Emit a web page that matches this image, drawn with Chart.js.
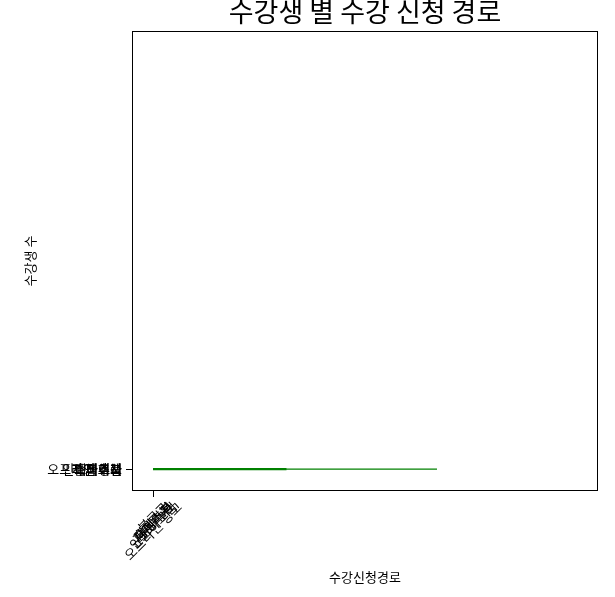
<!DOCTYPE html>
<html>
<head>
<meta charset="utf-8">
<script src="https://cdn.jsdelivr.net/npm/chart.js@4"></script>
<style>
  html, body { margin: 0; padding: 0; background: #fff; }
  #wrap { width: 615px; height: 597px; }
</style>
</head>
<body>
<div id="wrap"><canvas id="chart" width="615" height="597"></canvas></div>
<script>
// categories stacked on the single tick of each axis
const categories = ["지인 추천", "블로그", "페이스북", "인스타그램", "홈페이지", "오프라인 광고"];
const yCategories = ["지인 추천", "블로그", "페이스북", "인스타그램", "홈페이지", "오프라인 행사"];
// horizontal green segments, start and end on the x scale
const segStart = [0, 0];
const segEnd = [0.47, 1.0];
const segWidth = [2.4, 1.2];

const FONT = "'Noto Sans CJK KR', 'Noto Sans', sans-serif";

const tickLabels = {
  id: "tickLabels",
  afterDraw(chart) {
    const ctx = chart.ctx;
    const xs = chart.scales.x, ys = chart.scales.y;
    const x0 = xs.getPixelForValue(0);
    const y0 = ys.getPixelForValue(0);
    ctx.save();
    ctx.fillStyle = "#000";
    ctx.font = "13px " + FONT;

    // y labels, all at the same tick
    ctx.textAlign = "right";
    ctx.textBaseline = "middle";
    yCategories.forEach(t => ctx.fillText(t, xs.left - 10, y0));

    // x labels rotated 45 deg, centred under the tick
    const h = 13;
    const top = xs.top + 9;
    categories.forEach(t => {
      const w = ctx.measureText(t).width;
      const half = (w + h) / (2 * Math.SQRT2);
      ctx.save();
      ctx.translate(x0, top + half);
      ctx.rotate(-Math.PI / 4);
      ctx.textAlign = "center";
      ctx.fillText(t, 0, 0);
      ctx.restore();
    });

    // frame
    const a = chart.chartArea;
    ctx.strokeStyle = "#000";
    ctx.lineWidth = 1;
    ctx.strokeRect(a.left + 0.5, a.top + 0.5, a.right - a.left - 1, a.bottom - a.top - 1);

    // title over the plot area
    ctx.font = "27px " + FONT;
    ctx.textAlign = "center";
    ctx.textBaseline = "middle";
    ctx.fillText("수강생 별 수강 신청 경로", (a.left + a.right) / 2, 12);
    ctx.restore();
  }
};

const datasets = segEnd.map((end, i) => ({
  data: [{ x: segStart[i], y: 0 }, { x: end, y: 0 }],
  borderColor: "#008000",
  borderWidth: segWidth[i],
  pointRadius: 0,
  fill: false
}));

new Chart(document.getElementById("chart").getContext("2d"), {
  type: "line",
  data: { datasets },
  options: {
    responsive: false,
    animation: false,
    layout: { padding: { top: 31, right: 17, left: 0, bottom: 0 } },
    plugins: { legend: { display: false }, tooltip: { enabled: false } },
    scales: {
      x: {
        type: "linear",
        min: -0.074,
        max: 1.567,
        afterBuildTicks: s => { s.ticks = [{ value: 0 }]; },
        afterFit: s => { s.height = 106; },
        ticks: { callback: () => "", font: { size: 12 } },
        grid: { drawOnChartArea: false, drawTicks: true, tickLength: 6, color: "#000" },
        border: { display: false },
        title: {
          display: true,
          text: "수강신청경로",
          color: "#000",
          font: { family: FONT, size: 13 },
          padding: { top: 0, bottom: 12 }
        }
      },
      y: {
        type: "linear",
        min: -0.05,
        max: 1.0,
        afterBuildTicks: s => { s.ticks = [{ value: 0 }]; },
        afterFit: s => { s.width = 132; },
        ticks: { callback: () => "" },
        grid: { drawOnChartArea: false, drawTicks: true, tickLength: 6, color: "#000" },
        border: { display: false },
        title: {
          display: true,
          text: "수강생 수",
          color: "#000",
          font: { family: FONT, size: 13 },
          padding: { top: 22, bottom: 0 }
        }
      }
    }
  },
  plugins: [tickLabels]
});
</script>
</body>
</html>
